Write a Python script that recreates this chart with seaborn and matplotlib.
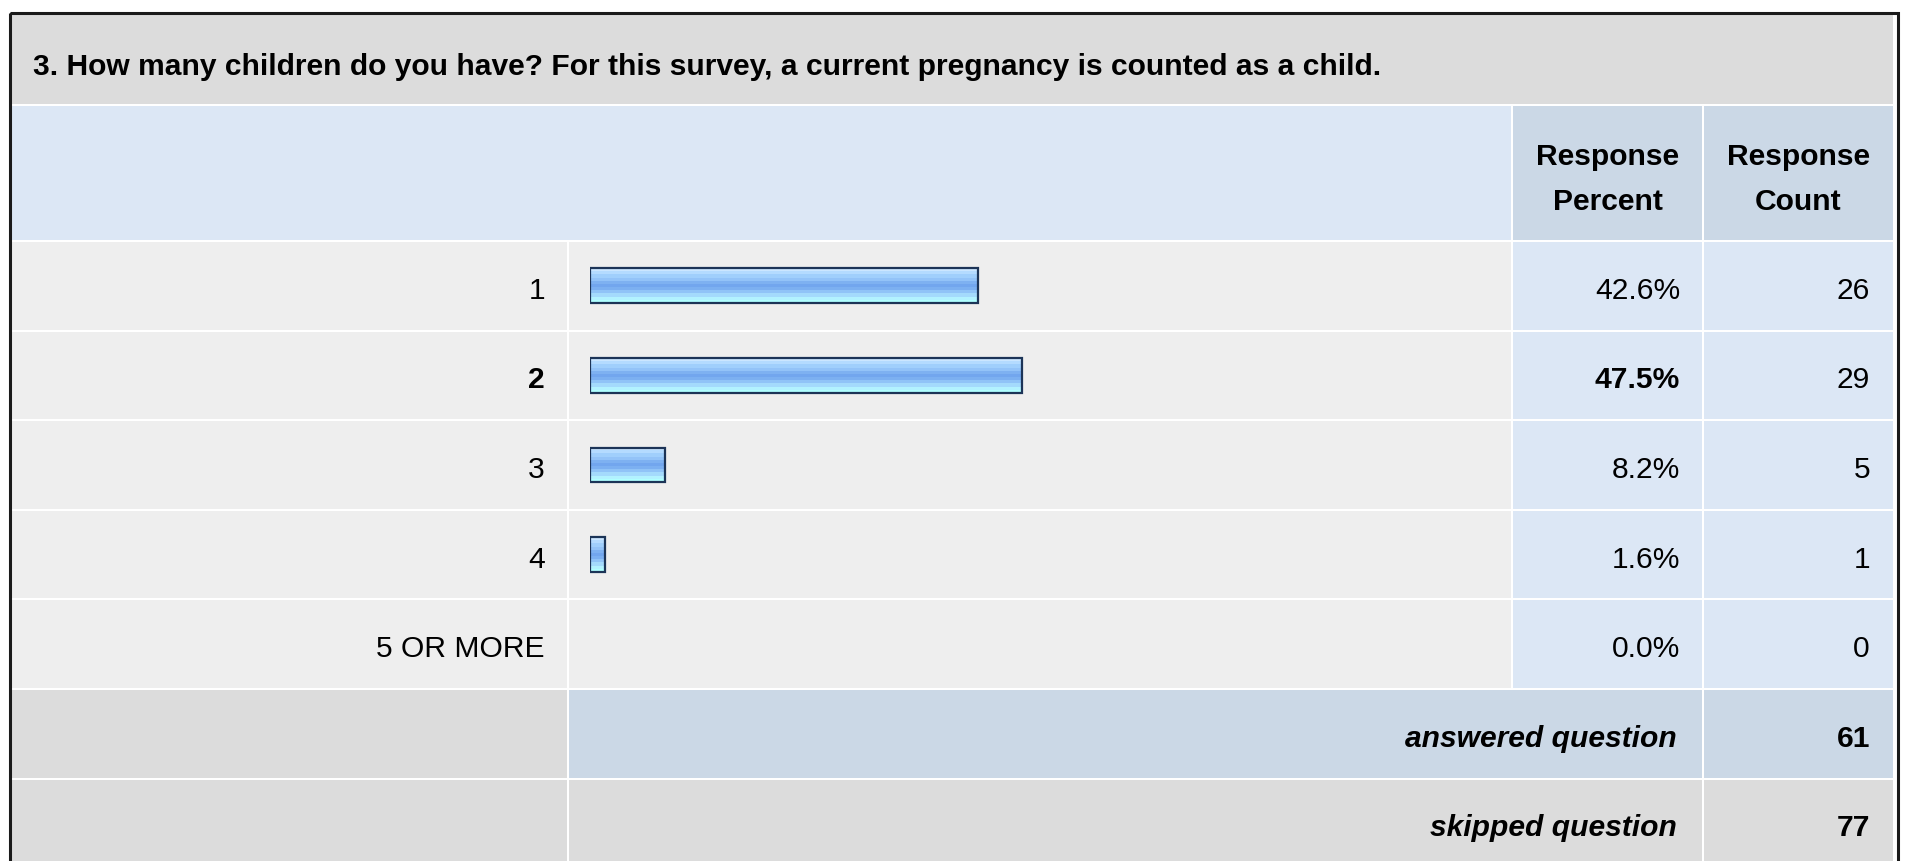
import numpy as np
import pandas as pd
import matplotlib
matplotlib.use('Agg')
import matplotlib.pyplot as plt
from matplotlib.patches import Rectangle
from matplotlib.colors import ListedColormap
import seaborn as sns

question = '3. How many children do you have? For this survey, a current pregnancy is counted as a child.'
answers = ['1', '2', '3', '4', '5 OR MORE']
percent = [42.6, 47.5, 8.2, 1.6, 0.0]
counts = [26, 29, 5, 1, 0]
answered = 61
skipped = 77

sns.set_style('white')
plt.rcParams['font.family'] = ['Liberation Sans', 'DejaVu Sans']
plt.rcParams['text.color'] = 'black'

W, H = 1909, 862
fig = plt.figure(figsize=(W / 100, H / 100), dpi=100)
fig.patch.set_facecolor('white')

# main axes in pixel units for the table cells
ax = fig.add_axes([0, 0, 1, 1])
ax.set_xlim(0, W)
ax.set_ylim(H, 0)
ax.axis('off')

grey = '#dcdcdc'
light = '#eeeeee'
blue1 = '#dce7f5'
blue2 = '#cbd8e6'
fs = 21.6  # 30 px

def cell(x0, x1, y0, y1, color):
    ax.add_patch(Rectangle((x0, y0), x1 - x0, y1 - y0, facecolor=color, edgecolor='none', zorder=0))

# column edges
c_lab = (12, 567)
c_bar = (569, 1511)
c_pct = (1513, 1702)
c_cnt = (1704, 1893)

# title + header rows
cell(12, 1893, 15, 105, grey)
cell(12, 1511, 107, 241, blue1)
cell(*c_pct, 107, 241, blue2)
cell(*c_cnt, 107, 241, blue2)
ax.text(33, 75, question, fontsize=fs, fontweight='bold', va='baseline', ha='left')
for c in (c_pct, c_cnt):
    xc = (c[0] + c[1]) / 2
    ax.text(xc, 165, 'Response', fontsize=fs, fontweight='bold', ha='center', va='baseline')
ax.text((c_pct[0] + c_pct[1]) / 2, 210, 'Percent', fontsize=fs, fontweight='bold', ha='center', va='baseline')
ax.text((c_cnt[0] + c_cnt[1]) / 2, 210, 'Count', fontsize=fs, fontweight='bold', ha='center', va='baseline')

pitch = 89.6
rh = 87.6
top0 = 243
top_max = max(percent)
for i, (lab, p, n) in enumerate(zip(answers, percent, counts)):
    y0 = top0 + i * pitch
    cell(*c_lab, y0, y0 + rh, light)
    cell(*c_bar, y0, y0 + rh, light)
    cell(*c_pct, y0, y0 + rh, blue1)
    cell(*c_cnt, y0, y0 + rh, blue1)
    yb = y0 + rh / 2 + 12
    wt = 'bold' if p == top_max else 'normal'
    ax.text(545, yb, lab, fontsize=fs, fontweight=wt, ha='right', va='baseline')
    ax.text(1680, yb, f'{p:.1f}%', fontsize=fs, fontweight=wt, ha='right', va='baseline')
    ax.text(1870, yb, str(n), fontsize=fs, ha='right', va='baseline')

summary = [('answered question', answered, blue2), ('skipped question', skipped, grey)]
for j, (lab, n, col) in enumerate(summary):
    y0 = top0 + (len(answers) + j) * pitch
    cell(*c_lab, y0, y0 + rh, grey)
    cell(c_bar[0], c_pct[1], y0, y0 + rh, col)
    cell(*c_cnt, y0, y0 + rh, col)
    yb = y0 + rh / 2 + 12
    ax.text(1677, yb, lab, fontsize=fs, fontweight='bold', style='italic', ha='right', va='baseline')
    ax.text(1870, yb, str(n), fontsize=fs, fontweight='bold', ha='right', va='baseline')

# outer frame
ax.add_patch(Rectangle((9.5, 13.5), 1888, 900, facecolor='none', edgecolor='#1a1a1a', lw=2.2, zorder=5))

# bar axes: 0-100 % across the bar column, one category per data row
bx = fig.add_axes([590 / W, 1 - (top0 - 1 + 5 * pitch) / H, 910 / W, 5 * pitch / H])
df = pd.DataFrame({'answer': answers, 'percent': percent})
sns.barplot(data=df, x='percent', y='answer', orient='h', ax=bx, width=0.39,
            color='#8fbef5', saturation=1)
bx.set_xlim(0, 100)
bx.set_ylim(4.5, -0.5)
bx.axis('off')
bx.patch.set_alpha(0)

grad_colors = ['#cbe6ff', '#b4dbff', '#a0cffc', '#93c3f8', '#7eb1f1', '#72a6ee',
               '#7cb0f1', '#90c3f7', '#a4dafc', '#b2f2ff', '#b0ffff']
cmap = ListedColormap(grad_colors)
grad = np.arange(len(grad_colors)).reshape(-1, 1)
for p in list(bx.patches):
    w = p.get_width()
    if w <= 0:
        p.set_visible(False)
        continue
    x0, y0, h = p.get_x(), p.get_y(), p.get_height()
    bx.imshow(grad, cmap=cmap, aspect='auto', interpolation='nearest',
              extent=(x0, x0 + w, y0 + h, y0), zorder=1)
    p.set_facecolor('none')
    p.set_edgecolor('#1c3457')
    p.set_linewidth(1.6)
    p.set_zorder(2)
bx.set_xlim(0, 100)
bx.set_ylim(4.5, -0.5)

fig.savefig('out.png', dpi=100)
